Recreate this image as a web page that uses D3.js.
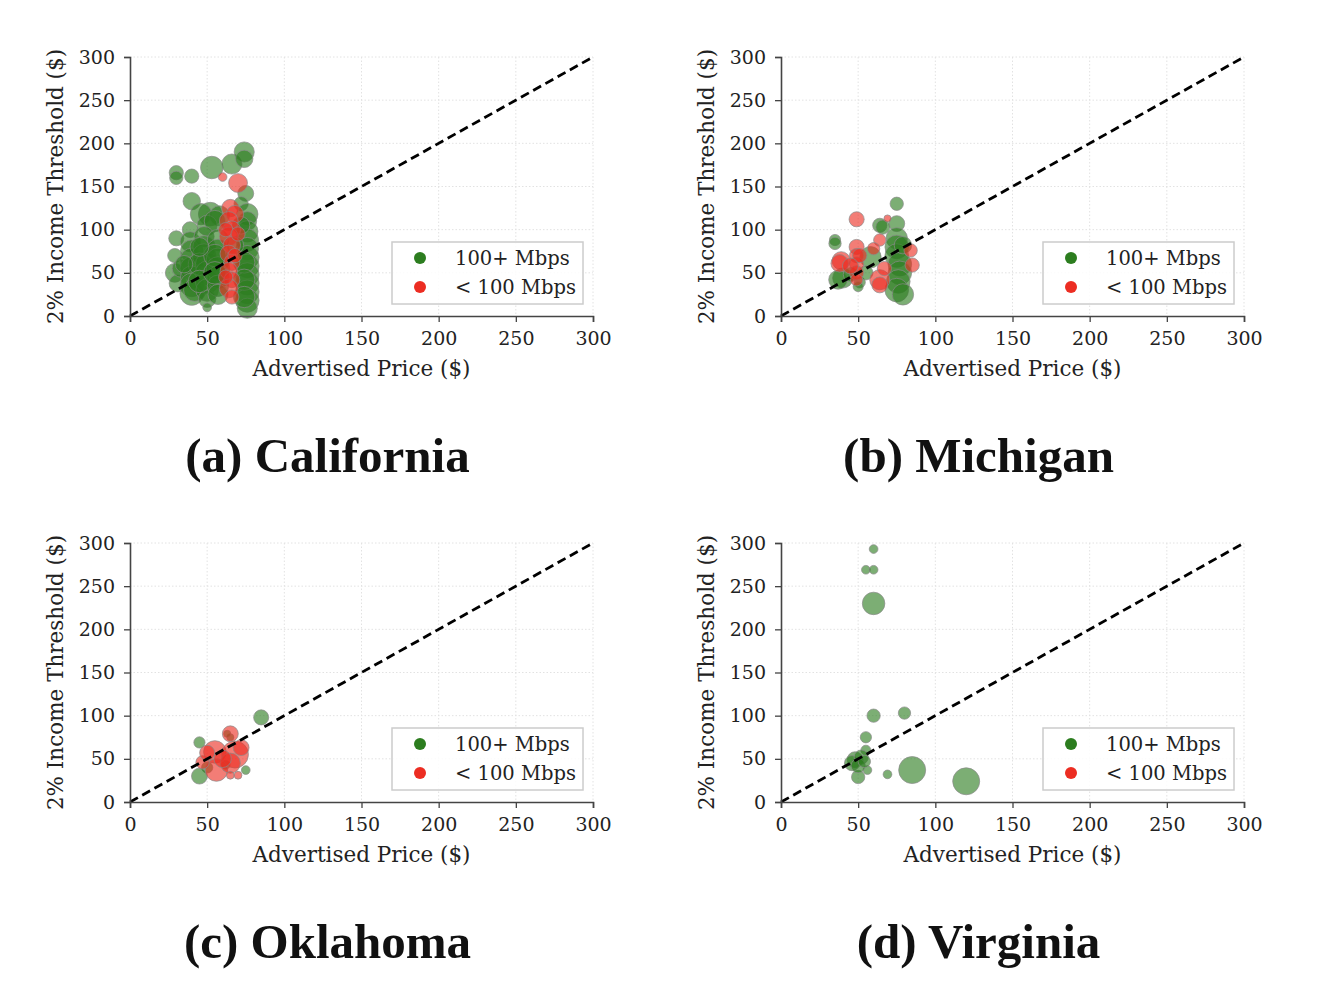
<!DOCTYPE html>
<html><head><meta charset="utf-8">
<script src="https://cdn.jsdelivr.net/npm/d3@7"></script>
<style>body{margin:0;background:#fff}svg{display:block}</style>
</head><body>
<script>
// ---- data: [advertised price, 2% income threshold, marker size] ----
const ticks = [0, 50, 100, 150, 200, 250, 300];
const legendLabels = ["100+ Mbps", "< 100 Mbps"];
const panelTitles = ["(a) California", "(b) Michigan", "(c) Oklahoma", "(d) Virginia"];

const caGreen = [
  [30,166,40],[30,160,35],[40,162,40],[53,172,100],[66,176,80],[74,190,80],[74,182,60],[40,133,60],[75,142,50],[72,130,40],
  [52,118,110],[46,118,90],[58,116,80],[76,118,90],[76,110,70],[50,105,80],[55,110,90],
  [30,90,45],[29,70,40],[29,50,70],[31,38,60],[33,55,60],
  [39,100,50],[39,86,80],[40,75,100],[40,65,110],[40,55,110],[40,45,100],[40,36,110],[40,26,110],[42,30,100],
  [48,92,80],[48,80,100],[48,70,110],[50,60,110],[50,50,110],[50,40,110],[50,30,100],[50,20,60],[50,10,15],[45,60,100],[45,40,100],
  [57,88,90],[57,76,100],[57,65,110],[57,55,110],[57,45,100],[57,35,90],[57,25,80],[55,70,100],[55,50,100],
  [76,98,90],[76,88,100],[76,78,100],[76,68,110],[76,58,110],[76,48,110],[76,38,110],[76,28,110],[76,18,110],[76,9,80],
  [72,105,60],[68,82,60],[45,80,70],[35,60,60],[74,62,90],[74,42,90],[74,22,90]
];
const caRed = [
  [60,161,15],[70,154,70],[65,125,60],[68,118,60],[64,110,70],[66,100,60],[64,92,70],[66,82,60],[64,72,60],[66,62,50],
  [64,52,60],[66,42,50],[64,32,70],[66,22,40],[62,100,40],[70,95,40],[68,70,40],[62,45,40]
];

const miGreen = [
  [75,130,35],[64,105,40],[75,107,50],[35,88,25],[35,84,30],[58,68,90],[40,44,80],[37,42,70],[51,39,25],
  [75,90,90],[75,80,110],[75,70,110],[77,60,110],[77,50,110],[76,40,110],[75,30,110],[79,25,90],[79,82,60],[66,103,40],[55,50,40],[50,34,20],[45,48,40]
];
const miRed = [
  [49,112,45],[69,113,10],[49,80,45],[49,70,40],[49,60,40],[49,50,40],[49,42,30],[39,64,65],[38,61,60],[64,42,80],[84,76,35],
  [64,88,30],[85,59,40],[51,70,40],[64,36,50],[67,55,40],[45,58,50],[60,78,30]
];

const okGreen = [
  [85,98,45],[45,69,25],[65,75,10],[50,40,25],[45,30,50],[75,37,15],[62,43,15],[63,79,10]
];
const okRed = [
  [65,79,50],[55,58,100],[68,55,144],[56,37,100],[65,45,80],[65,31,12],[70,31,12],[47,46,35],[50,57,45],[60,50,60],[72,63,50]
];

const vaGreen = [
  [60,293,15],[55,269,15],[60,269,15],[60,230,100],[60,100,35],[80,103,30],[55,75,25],[55,60,20],
  [48,49,50],[46,45,45],[52,52,40],[50,29,35],[56,37,15],[69,32,15],[85,37,144],[120,24,144],[50,42,40],[54,47,30]
];
const vaRed = [];

const panels = [
  {green: caGreen, red: caRed, x: 130, y: 57},
  {green: miGreen, red: miRed, x: 781, y: 57},
  {green: okGreen, red: okRed, x: 130, y: 543},
  {green: vaGreen, red: vaRed, x: 781, y: 543}
];

const W = 1328, H = 994, pw = 463, ph = 259;
const GREEN = "#2c7d1f", RED = "#ec2d22";
const FONT = "DejaVu Serif";

const svg = d3.select("body").append("svg").attr("width", W).attr("height", H);
const rScale = d3.scaleSqrt().domain([0, 144]).range([0, 13.5]);

panels.forEach((p, i) => {
  const g = svg.append("g").attr("transform", `translate(${p.x},${p.y})`);
  const x = d3.scaleLinear().domain([0, 300]).range([0, pw]);
  const y = d3.scaleLinear().domain([0, 300]).range([ph, 0]);

  // grid
  g.append("g").selectAll("line").data(ticks.slice(1)).join("line")
    .attr("x1", d => x(d)).attr("x2", d => x(d)).attr("y1", 0).attr("y2", ph)
    .attr("stroke", "#e2e2e2").attr("stroke-width", 1).attr("stroke-dasharray", "1.5,2");
  g.append("g").selectAll("line").data(ticks.slice(1)).join("line")
    .attr("y1", d => y(d)).attr("y2", d => y(d)).attr("x1", 0).attr("x2", pw)
    .attr("stroke", "#e2e2e2").attr("stroke-width", 1).attr("stroke-dasharray", "1.5,2");

  // bubbles
  const drawPts = (data, color) => g.append("g").selectAll("circle").data(data).join("circle")
    .attr("cx", d => x(d[0])).attr("cy", d => y(d[1])).attr("r", d => rScale(d[2]))
    .attr("fill", color).attr("fill-opacity", 0.62)
    .attr("stroke", "#8a8a8a").attr("stroke-opacity", 0.7).attr("stroke-width", 1);
  drawPts(p.green, GREEN);
  drawPts(p.red, RED);

  // diagonal
  g.append("line").attr("x1", x(0)).attr("y1", y(0)).attr("x2", x(300)).attr("y2", y(300))
    .attr("stroke", "#000").attr("stroke-width", 2.8).attr("stroke-dasharray", "9,5");

  // axes
  const xa = g.append("g").attr("transform", `translate(0,${ph})`)
    .call(d3.axisBottom(x).tickValues(ticks).tickSize(6).tickPadding(10));
  const ya = g.append("g").call(d3.axisLeft(y).tickValues(ticks).tickSize(6).tickPadding(9));
  [xa, ya].forEach(a => {
    a.select(".domain").attr("stroke", "#444").attr("stroke-width", 1.6);
    a.selectAll(".tick line").attr("stroke", "#444").attr("stroke-width", 1.3);
    a.selectAll("text").attr("font-family", FONT).attr("font-size", 19).attr("fill", "#222");
  });

  g.append("text").attr("x", pw / 2).attr("y", ph + 60).attr("text-anchor", "middle")
    .attr("font-family", FONT).attr("font-size", 21.5).attr("fill", "#222").text("Advertised Price ($)");
  g.append("text").attr("transform", `translate(-67,${ph / 2}) rotate(-90)`).attr("text-anchor", "middle")
    .attr("font-family", FONT).attr("font-size", 21.5).attr("fill", "#222").text("2% Income Threshold ($)");

  // legend
  const lg = g.append("g").attr("transform", `translate(${pw - 201},${ph - 74})`);
  lg.append("rect").attr("width", 191).attr("height", 62).attr("fill", "#fff").attr("fill-opacity", 0.85)
    .attr("stroke", "#cccccc").attr("stroke-width", 1.5);
  [GREEN, RED].forEach((c, k) => {
    lg.append("circle").attr("cx", 28).attr("cy", 16 + k * 29).attr("r", 6).attr("fill", c);
    lg.append("text").attr("x", 63).attr("y", 16 + k * 29).attr("dy", "0.35em")
      .attr("font-family", FONT).attr("font-size", 19.5).attr("fill", "#222").text(legendLabels[k]);
  });

  // panel title
  g.append("text").attr("x", pw / 2 - 34).attr("y", ph + 156).attr("text-anchor", "middle")
    .attr("font-family", "Liberation Serif").attr("font-weight", "bold").attr("font-size", 49)
    .attr("fill", "#111").text(panelTitles[i]);
});
</script>
</body></html>
